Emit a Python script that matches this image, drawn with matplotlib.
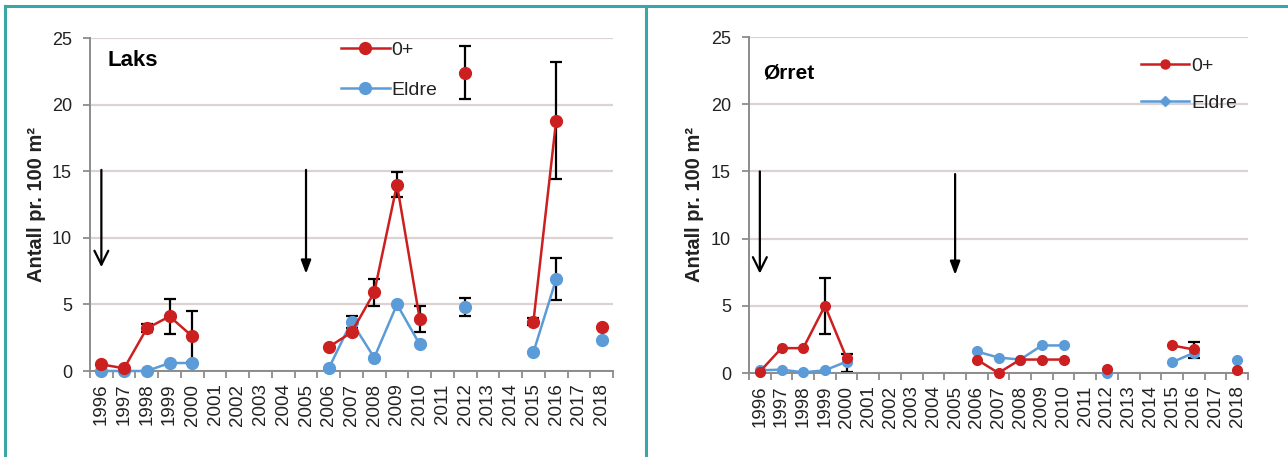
import numpy as np
import matplotlib
matplotlib.use("Agg")
import matplotlib.pyplot as plt
from matplotlib import font_manager
from matplotlib.lines import Line2D

# ---- data -------------------------------------------------------------
years = [str(y) for y in range(1996, 2019)]
NA = np.nan

laks_0 = [0.5, 0.2, 3.2, 4.1, 2.6, NA, NA, NA, NA, NA,
          1.8, 2.9, 5.9, 14.0, 3.9, NA, 22.4, NA, NA, 3.7, 18.8, NA, 3.3]
laks_0_err = [NA, NA, 0.3, 1.3, 1.9, NA, NA, NA, NA, NA,
              NA, NA, 1.0, 0.95, 1.0, NA, 2.0, NA, NA, 0.25, 4.4, NA, NA]
laks_eldre = [0.0, 0.0, 0.0, 0.6, 0.6, NA, NA, NA, NA, NA,
              0.2, 3.7, 1.0, 5.0, 2.0, NA, 4.8, NA, NA, 1.4, 6.9, NA, 2.3]
laks_eldre_err = [NA, NA, NA, NA, NA, NA, NA, NA, NA, NA,
                  NA, 0.45, NA, NA, NA, NA, 0.7, NA, NA, NA, 1.6, NA, NA]

orret_0 = [0.1, 1.85, 1.85, 5.0, 1.1, NA, NA, NA, NA, NA,
           1.0, 0.0, 1.0, 1.0, 1.0, NA, 0.3, NA, NA, 2.05, 1.75, NA, 0.2]
orret_0_err_lo = [NA, NA, NA, 2.1, 1.0, NA, NA, NA, NA, NA,
                  NA, NA, NA, NA, NA, NA, NA, NA, NA, NA, 0.6, NA, NA]
orret_0_err_hi = [NA, NA, NA, 2.1, 0.3, NA, NA, NA, NA, NA,
                  NA, NA, NA, NA, NA, NA, NA, NA, NA, NA, 0.55, NA, NA]
orret_eldre = [0.2, 0.25, 0.05, 0.2, 0.85, NA, NA, NA, NA, NA,
               1.6, 1.15, 1.0, 2.05, 2.05, NA, 0.0, NA, NA, 0.8, 1.5, NA, 1.0]

# stocking events marked with arrows: (category index, start, end, filled head)
laks_arrows = [(0, 15.1, 7.8, False), (9, 15.1, 7.3, True)]
orret_arrows = [(0, 15.0, 7.4, False), (9, 14.8, 7.3, True)]

# ---- style ------------------------------------------------------------
avail = {f.name for f in font_manager.fontManager.ttflist}
base_font = "Liberation Sans" if "Liberation Sans" in avail else "DejaVu Sans"
narrow_font = "Liberation Sans Narrow" if "Liberation Sans Narrow" in avail else base_font
plt.rcParams["font.family"] = [base_font, "DejaVu Sans"]

RED = "#cc1f1f"
BLUE = "#5b9bd8"
GRID = "#dcd2d2"
SPINE = "#8c8c8c"
TEAL = "#3aa6a6"
TXT = "#222222"

W, H = 1288, 457
fig = plt.figure(figsize=(W / 100, H / 100), dpi=100)
fig.patch.set_facecolor("white")


def px_axes(x0, x1, ytop, ybot):
    return fig.add_axes([x0 / W, (H - ybot) / H, (x1 - x0) / W, (ybot - ytop) / H])


def errbar(ax, y, lo, hi):
    x = np.arange(len(y))
    y = np.asarray(y, float)
    lo = np.asarray(lo, float)
    hi = np.asarray(hi, float)
    m = ~np.isnan(lo)
    ax.errorbar(x[m], y[m], yerr=[lo[m], hi[m]], fmt="none", ecolor="black",
                elinewidth=1.6, capsize=4, capthick=1.6, zorder=2)


def setup(ax, ylab_x):
    n = len(years)
    ax.set_xlim(-0.5, n - 0.5)
    ax.set_ylim(0, 25)
    ax.set_yticks([0, 5, 10, 15, 20, 25])
    ax.set_xticks(np.arange(n))
    ax.set_xticklabels(years, rotation=90, fontsize=13.5, color=TXT,
                       family=[narrow_font, base_font])
    ax.set_xticks(np.arange(n + 1) - 0.5, minor=True)
    ax.tick_params(axis="x", which="major", length=0, pad=9)
    ax.tick_params(axis="x", which="minor", length=5, width=1.3, color=SPINE,
                   direction="out")
    ax.tick_params(axis="y", length=5, width=1.3, color=SPINE, direction="out",
                   pad=8, labelsize=13, labelcolor=TXT)
    for lab in ax.get_yticklabels():
        lab.set_family([narrow_font, base_font])
    ax.grid(axis="y", color=GRID, linewidth=1.6, zorder=0)
    ax.set_axisbelow(True)
    for s in ["top", "right"]:
        ax.spines[s].set_visible(False)
    for s in ["left", "bottom"]:
        ax.spines[s].set_color(SPINE)
        ax.spines[s].set_linewidth(1.4)
    ax.set_ylabel("Antall pr. 100 m²", fontsize=14.5, fontweight="bold", color=TXT)
    ax.yaxis.set_label_coords(ylab_x, 0.5)


def arrows(ax, spec):
    for xi, y0, y1, filled in spec:
        if filled:
            props = dict(arrowstyle="-|>,head_length=0.8,head_width=0.3",
                         color="black", lw=1.6, shrinkA=0, shrinkB=0)
        else:
            props = dict(arrowstyle="->,head_length=1.0,head_width=0.5",
                         color="black", lw=1.6, shrinkA=0, shrinkB=0)
        ax.annotate("", xy=(xi, y1), xytext=(xi, y0), arrowprops=props, zorder=4)


x = np.arange(len(years))

# ---- Laks -------------------------------------------------------------
ax1 = px_axes(90, 613, 38, 371)
setup(ax1, -0.085)
errbar(ax1, laks_0, laks_0_err, laks_0_err)
errbar(ax1, laks_eldre, laks_eldre_err, laks_eldre_err)
ax1.plot(x, laks_eldre, "-o", color=BLUE, lw=1.8, ms=8.5, mec=BLUE, zorder=3,
         clip_on=False)
ax1.plot(x, laks_0, "-o", color=RED, lw=1.8, ms=8.5, mec=RED, zorder=3,
         clip_on=False)
arrows(ax1, laks_arrows)
ax1.text(0.034, 0.932, "Laks", transform=ax1.transAxes, fontsize=16,
         fontweight="bold", va="center", ha="left", color="black")
h1 = [Line2D([], [], color=RED, marker="o", lw=1.8, ms=8.5),
      Line2D([], [], color=BLUE, marker="o", lw=1.8, ms=8.5)]
ax1.legend(h1, ["0+", "Eldre"], loc="upper left", bbox_to_anchor=(0.48, 0.99),
           frameon=False, fontsize=14, handlelength=2.5, handletextpad=0.1,
           labelspacing=1.15, borderpad=0, borderaxespad=0, labelcolor=TXT)

# ---- Ørret ------------------------------------------------------------
ax2 = px_axes(749, 1248, 37, 373)
setup(ax2, -0.09)
errbar(ax2, orret_0, orret_0_err_lo, orret_0_err_hi)
ax2.plot(x, orret_eldre, "-o", color=BLUE, lw=1.8, ms=7, mec=BLUE, zorder=3,
         clip_on=False)
ax2.plot(x, orret_0, "-o", color=RED, lw=1.8, ms=7, mec=RED, zorder=3,
         clip_on=False)
arrows(ax2, orret_arrows)
ax2.text(0.028, 0.893, "Ørret", transform=ax2.transAxes, fontsize=15,
         fontweight="bold", va="center", ha="left", color="black")
h2 = [Line2D([], [], color=RED, marker="o", lw=1.8, ms=6.5),
      Line2D([], [], color=BLUE, marker="D", lw=1.8, ms=5)]
ax2.legend(h2, ["0+", "Eldre"], loc="upper left", bbox_to_anchor=(0.785, 0.94),
           frameon=False, fontsize=14, handlelength=2.5, handletextpad=0.1,
           labelspacing=1.0, borderpad=0, borderaxespad=0, labelcolor=TXT)

# ---- panel frame ------------------------------------------------------
frame_kw = dict(color=TEAL, lw=2.2, transform=fig.transFigure, zorder=10)
fig.add_artist(Line2D([5 / W, 5 / W], [0, 1 - 6 / H], **frame_kw))
fig.add_artist(Line2D([5 / W, 1], [1 - 6 / H, 1 - 6 / H], **frame_kw))
fig.add_artist(Line2D([646 / W, 646 / W], [0, 1 - 6 / H], **frame_kw))

fig.savefig("out.png", dpi=100, facecolor="white")
